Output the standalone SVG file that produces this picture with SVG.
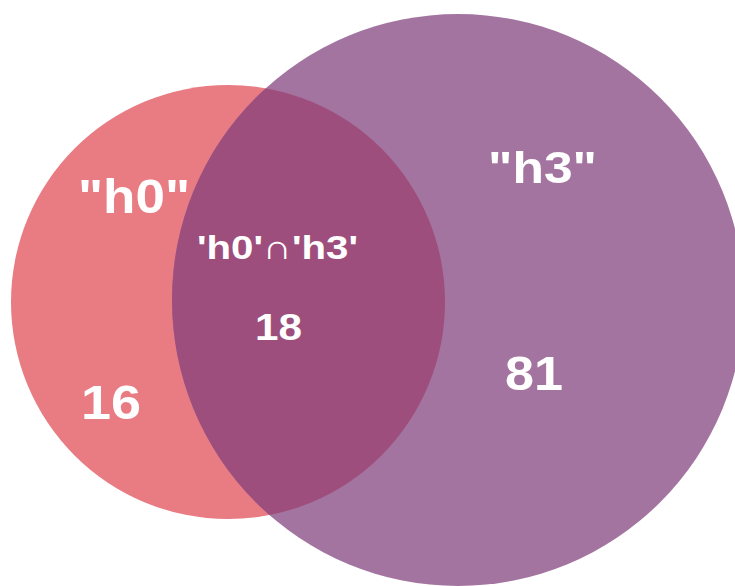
<svg xmlns="http://www.w3.org/2000/svg" width="735" height="586" viewBox="0 0 735 586">
  <style>
    .lbl { font-family: "Liberation Sans", Arial, sans-serif; font-weight: bold; fill: #ffffff; }
  </style>
  <defs>
    <clipPath id="clip-h0">
      <circle cx="228" cy="302" r="217"/>
    </clipPath>
  </defs>
  <rect width="735" height="586" fill="#ffffff"/>
  <g id="set-h0">
    <circle cx="228" cy="302" r="217" fill="#E97B83"/>
  </g>
  <g id="set-h3">
    <circle cx="458" cy="300" r="286" fill="#A3749F"/>
  </g>
  <g id="overlap">
    <circle cx="458" cy="300" r="286" fill="#9E4E7C" clip-path="url(#clip-h0)"/>
  </g>
  <g id="labels">
    <text class="lbl" x="78" y="213" font-size="48" textLength="112" lengthAdjust="spacingAndGlyphs">"h0"</text>
    <text class="lbl" x="488" y="183" font-size="45" textLength="109" lengthAdjust="spacingAndGlyphs">"h3"</text>
    <text class="lbl" x="197" y="259" font-size="34" textLength="161" lengthAdjust="spacingAndGlyphs">'h0'<tspan font-weight="normal">∩</tspan>'h3'</text>
    <text class="lbl" x="255" y="340" font-size="37" textLength="47" lengthAdjust="spacingAndGlyphs">18</text>
    <text class="lbl" x="81" y="419" font-size="49" textLength="60" lengthAdjust="spacingAndGlyphs">16</text>
    <text class="lbl" x="505" y="390" font-size="48" textLength="58" lengthAdjust="spacingAndGlyphs">81</text>
  </g>
</svg>
